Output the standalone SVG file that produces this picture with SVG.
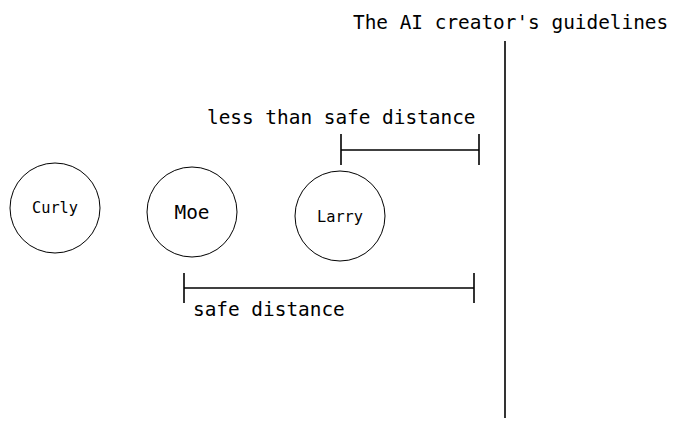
<svg xmlns="http://www.w3.org/2000/svg" width="680" height="428" viewBox="0 0 680 428">
<style>
text{font-family:"DejaVu Sans Mono","Liberation Mono",monospace;fill:#000}
.lbl{font-size:19.4px}
.n{font-size:15.3px}
circle{fill:#fff;stroke:#000;stroke-width:1}
line{stroke:#000;stroke-width:1.6}
</style>
<rect width="680" height="428" fill="#fff"/>
<g id="guideline">
<line x1="505" y1="41" x2="505" y2="418"/>
<text class="lbl" x="353" y="29">The AI creator's guidelines</text>
</g>
<g id="curly"><circle cx="55" cy="208" r="45"/><text class="n" x="55" y="213" text-anchor="middle">Curly</text></g>
<g id="moe"><circle cx="192" cy="212" r="45"/><text class="lbl" x="192" y="219" text-anchor="middle">Moe</text></g>
<g id="larry"><circle cx="340" cy="216" r="45"/><text class="n" x="340" y="222" text-anchor="middle">Larry</text></g>
<g id="connectors">
<line x1="341" y1="150" x2="479" y2="150"/>
<line x1="341" y1="134" x2="341" y2="165"/>
<line x1="479" y1="134" x2="479" y2="165"/>
<line x1="184" y1="288" x2="474" y2="288"/>
<line x1="184" y1="273" x2="184" y2="303"/>
<line x1="474" y1="273" x2="474" y2="303"/>
</g>
<text class="lbl" x="207" y="124">less than safe distance</text>
<text class="lbl" x="193" y="316">safe distance</text>
</svg>
